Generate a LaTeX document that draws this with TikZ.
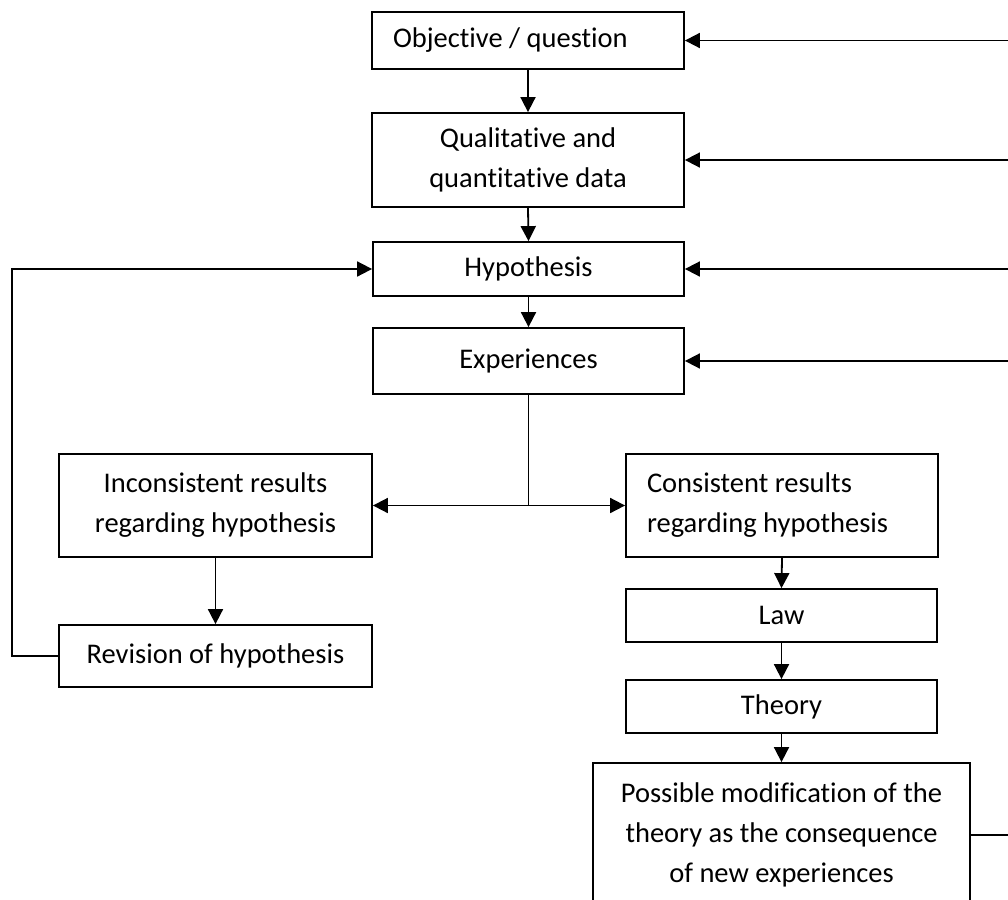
\documentclass[tikz,border=0pt]{standalone}
\usepackage{fontspec}
\setmainfont{Carlito}[Ligatures=NoCommon]
\usetikzlibrary{arrows.meta}
\begin{document}
\begin{tikzpicture}[x=1pt,y=-1pt,
  box/.style={draw, line width=1.8pt, inner sep=0pt, align=center,
    font=\fontsize{28.5}{40}\selectfont},
  lbox/.style={box, align=flush left, text width=#1, inner xsep=21pt},
  arr/.style={line width=1.8pt, -{Triangle[length=15pt,width=15pt]}},
  ln/.style={line width=1.8pt}]
\useasboundingbox (0,0) rectangle (1008,899);
\clip (0,0) rectangle (1008,899);

% main column
\node[lbox=270pt, minimum height=57pt] (obj) at (528,40.5) {Objective / question};
\node[box, minimum width=312pt, minimum height=94pt] (qual) at (528,160) {Qualitative and\\quantitative data};
\node[box, minimum width=311pt, minimum height=54pt] (hyp) at (528.5,269) {Hypothesis};
\node[box, minimum width=311pt, minimum height=66pt] (exp) at (528.5,361) {Experiences};

% left branch
\node[box, minimum width=313pt, minimum height=103pt] (inc) at (215.5,505.5) {Inconsistent results\\regarding hypothesis};
\node[box, minimum width=313pt, minimum height=62pt] (rev) at (215.5,656) {Revision of hypothesis};

% right branch
\node[lbox=270pt, minimum height=103pt] (con) at (782,505.5) {Consistent results\\regarding hypothesis};
\node[box, minimum width=311pt, minimum height=53pt] (law) at (781.5,615.5) {Law};
\node[box, minimum width=311pt, minimum height=53pt] (the) at (781.5,706.5) {Theory};
\node[box, minimum width=377pt, minimum height=144pt] (mod) at (781.5,835) {Possible modification of the\\theory as the consequence\\of new experiences};

% vertical arrows
\draw[arr] (obj.south) -- (qual.north);
\draw[arr] (qual.south) -- (hyp.north);
\draw[arr] (hyp.south) -- (exp.north);
\draw[arr] (inc.south) -- (rev.north);
\draw[arr] (con.south) -- (law.north);
\draw[arr] (law.south) -- (the.north);
\draw[arr] (the.south) -- (mod.north);

% split
\coordinate (split) at (exp.south |- inc.east);
\draw[ln] (exp.south) -- (split);
\draw[arr] (split) -- (inc.east);
\draw[arr] (split) -- (con.west);

% feedback loop on the left
\coordinate (lc) at (12,0);
\draw[arr] (rev.west) -- (lc |- rev.west) -- (lc |- hyp.west) -- (hyp.west);

% inputs from the right edge
\coordinate (re) at (1010,0);
\draw[arr] (re |- obj.east) -- (obj.east);
\draw[arr] (re |- qual.east) -- (qual.east);
\draw[arr] (re |- hyp.east) -- (hyp.east);
\draw[arr] (re |- exp.east) -- (exp.east);
\draw[ln] (mod.east) -- (re |- mod.east);
\end{tikzpicture}
\end{document}
